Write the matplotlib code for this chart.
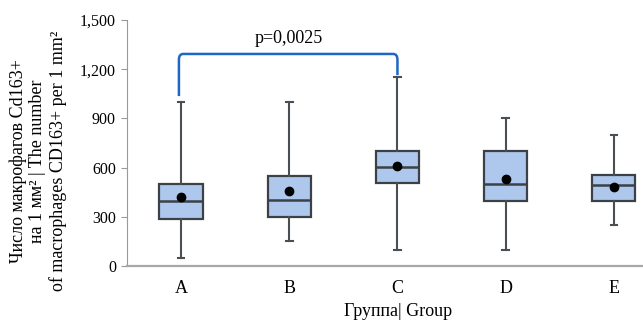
import matplotlib
matplotlib.use("Agg")
import matplotlib.pyplot as plt
from matplotlib.path import Path
from matplotlib.patches import PathPatch
from matplotlib.ticker import FuncFormatter

plt.rcParams['font.family'] = ['Liberation Serif', 'DejaVu Serif']

# ---- data ----
groups = ['A', 'B', 'C', 'D', 'E']
whislo = [50, 150, 100, 100, 250]
q1 = [287, 300, 508, 398, 398]
med = [398, 400, 603, 500, 494]
q3 = [500, 551, 700, 701, 557]
whishi = [1000, 1000, 1150, 900, 801]
means = [422, 459, 608, 528, 482]
yticks = [0, 300, 600, 900, 1200, 1500]
p_text = 'p=0,0025'

box_fill = '#adc8ec'
edge = '#3b4147'

fig = plt.figure(figsize=(6.43, 3.25), dpi=100)
ax = fig.add_axes([127 / 643, 1 - 266 / 325, 1 - 127 / 643, 246 / 325])

stats = []
for i, g in enumerate(groups):
    stats.append(dict(label=g, whislo=whislo[i], q1=q1[i], med=med[i],
                      q3=q3[i], whishi=whishi[i], mean=means[i], fliers=[]))

pos = list(range(len(groups)))
ax.bxp(stats, positions=pos, widths=0.4, patch_artist=True, showmeans=True,
       showfliers=False,
       boxprops=dict(facecolor=box_fill, edgecolor=edge, linewidth=1.6),
       medianprops=dict(color=edge, linewidth=1.8),
       whiskerprops=dict(color='#4a4f54', linewidth=1.5),
       capprops=dict(color='#4a4f54', linewidth=1.5),
       capwidths=0.06,
       meanprops=dict(marker='o', markerfacecolor='black', markeredgecolor='black',
                      markersize=6))

ax.set_xlim(-0.5, 4.27)
ax.set_ylim(0, 1500)
ax.set_yticks(yticks)
ax.yaxis.set_major_formatter(FuncFormatter(lambda v, p: f'{int(v):,}'))

for s in ['top', 'right']:
    ax.spines[s].set_visible(False)
ax.spines['left'].set_color('#9a9a9a')
ax.spines['bottom'].set_color('#a8a8a8')
ax.spines['bottom'].set_linewidth(1.6)
ax.tick_params(axis='y', direction='out', length=4, color='#9a9a9a',
               labelsize=11.5, pad=4)
ax.tick_params(axis='x', length=0, labelsize=13, pad=10)

# ---- significance bracket between A and C ----
xl, xr = -0.02, 2.0
yl, yr, yt = whishi[0] + 36, whishi[2] + 14, 1293
rx, ry = 0.04, 35
verts = [(xl, yl), (xl, yt - ry), (xl, yt), (xl + rx, yt),
         (xr - rx, yt), (xr, yt), (xr, yt - ry), (xr, yr)]
codes = [Path.MOVETO, Path.LINETO, Path.CURVE3, Path.CURVE3,
         Path.LINETO, Path.CURVE3, Path.CURVE3, Path.LINETO]
ax.add_patch(PathPatch(Path(verts, codes), facecolor='none',
                       edgecolor='#1f67c4', linewidth=1.8, clip_on=False))
ax.text(1.0, 1385, p_text, ha='center', va='center', fontsize=13)

fig.text(38 / 643, 1 - 161 / 325,
         'Число макрофагов Cd163+\nна 1 мм² | The number\nof macrophages CD163+ per 1 mm²',
         rotation=90, ha='center', va='center', multialignment='center',
         fontsize=13, linespacing=1.2)
fig.text(398 / 643, 1 - 312 / 325, 'Группа| Group', ha='center', va='center',
         fontsize=13)

fig.savefig('out.png', dpi=100)
